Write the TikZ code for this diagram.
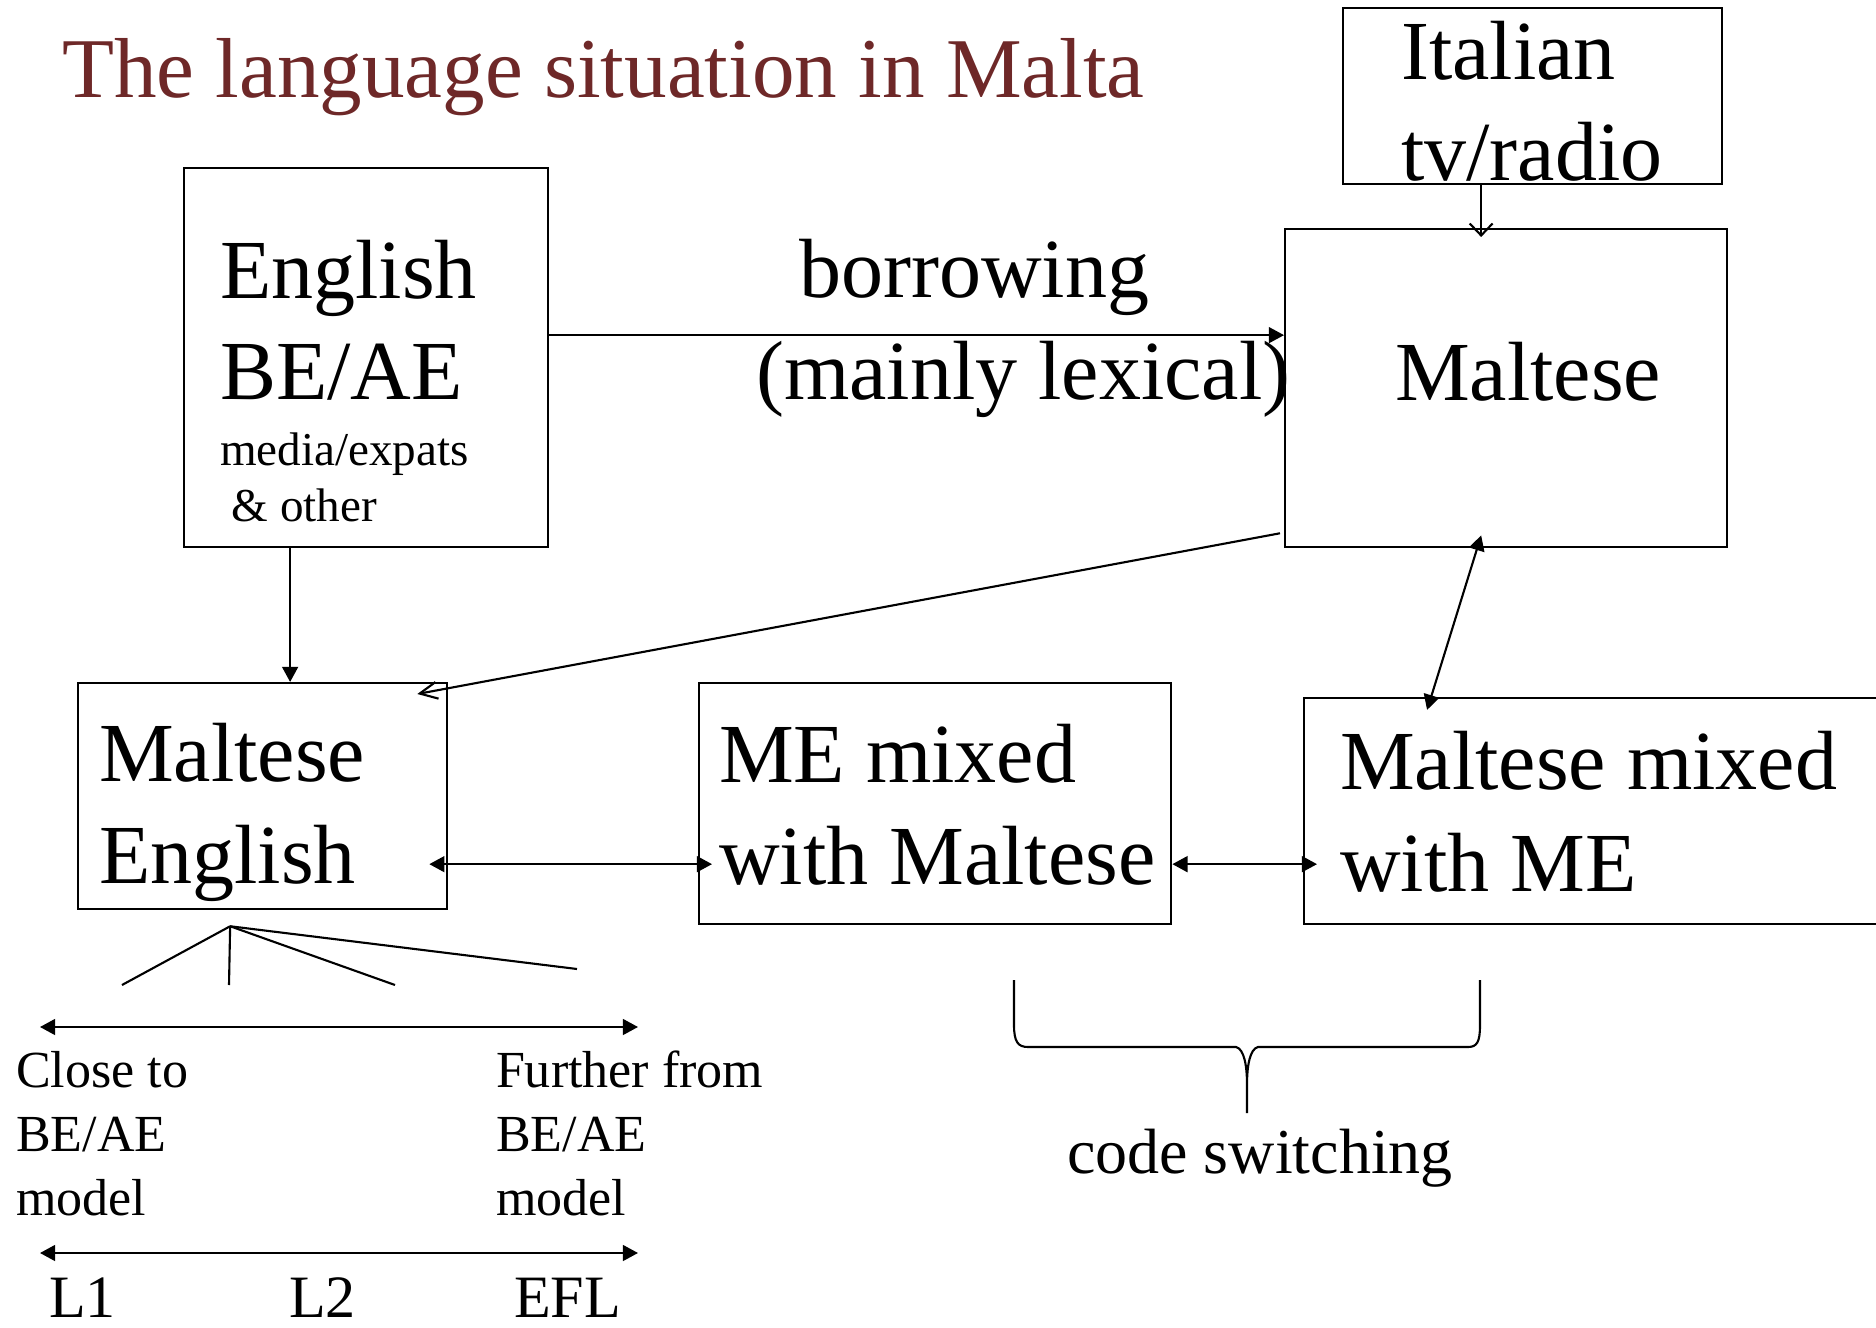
\documentclass[tikz,border=0pt]{standalone}
\usepackage{fontspec}
\setmainfont{Liberation Serif}
\usetikzlibrary{arrows.meta}
\definecolor{titlered}{RGB}{110,40,40}

\begin{document}
\begin{tikzpicture}[x=0.01cm,y=-0.01cm,line width=0.6pt,
	box/.style={draw,inner sep=0pt,anchor=north west},
	lbl/.style={inner sep=0pt,anchor=base west,align=left},
	big/.style={font=\fontsize{23.9}{28.9}\selectfont},
	arr/.style={-{Triangle[length=4.3pt,width=4.5pt]}},
	darr/.style={{Triangle[length=4.3pt,width=4.5pt]}-{Triangle[length=4.3pt,width=4.5pt]}},
	vee/.style={-{Straight Barb[length=5pt,width=4.8pt]}}]
	
	\useasboundingbox (0,0) rectangle (1876,1328);
	\clip (0,0) rectangle (1876,1328);
	
	\node[box,minimum width=3.79cm,minimum height=1.76cm] (italian) at (1342,7) {};
	\node[box,minimum width=4.42cm,minimum height=3.18cm] (maltese) at (1284,228) {};
	\node[box,minimum width=3.64cm,minimum height=3.79cm] (english) at (183,167) {};
	\node[box,minimum width=3.69cm,minimum height=2.26cm] (mtenglish) at (77,682) {};
	\node[box,minimum width=4.72cm,minimum height=2.41cm] (memix) at (698,682) {};
	\node[box,minimum width=6.00cm,minimum height=2.26cm] (mtmix) at (1303,697) {};
	
	\node[lbl,font=\fontsize{24.2}{29}\selectfont,text=titlered] (title) at (61,98) {The language situation in Malta};
	\node[lbl,big] (engtxt) at (219,400) {English\\BE/AE};
	\node[lbl,font=\fontsize{13.4}{16.2}\selectfont] (engsub) at (219,522) {media/expats\\\ \& other};
	\node[lbl,big] (bortxt) at (798,298) {borrowing};
	\node[lbl,big] (lextxt) at (755,400) {(mainly lexical)};
	\node[lbl,big] (maltxt) at (1394,401) {Maltese};
	\node[lbl,big] (itatxt) at (1400,181) {Italian\\tv/radio};
	\node[lbl,big] (mtetxt) at (98,883) {Maltese\\English};
	\node[lbl,big] (memtxt) at (718,884) {ME mixed\\with Maltese};
	\node[lbl,big] (mtmtxt) at (1339,891) {Maltese mixed\\with ME};
	\node[lbl,font=\fontsize{14.8}{18.2}\selectfont] (close) at (15,1215) {Close to\\BE/AE\\model};
	\node[lbl,font=\fontsize{14.8}{18.2}\selectfont] (further) at (495,1215) {Further from\\BE/AE\\model};
	\node[lbl,font=\fontsize{17.1}{20}\selectfont] (lone) at (48,1317) {L1};
	\node[lbl,font=\fontsize{17.1}{20}\selectfont] (ltwo) at (288,1317) {L2};
	\node[lbl,font=\fontsize{17.1}{20}\selectfont] (efl) at (513,1317) {EFL};
	\node[lbl,font=\fontsize{18.2}{22}\selectfont] (codesw) at (1066,1173) {code switching};
	
	\draw[arr] ([yshift=2.25mm]english.east) -- ([yshift=2.25mm]english.east -| maltese.west);
	\draw[-{Straight Barb[length=3.4pt,width=6.5pt]},shorten >=-0.9mm] ([xshift=-5.15mm]italian.south) -- ([xshift=-5.15mm]italian.south |- maltese.north);
	\draw[vee] ([xshift=-0.4mm,yshift=1.5mm]maltese.south west) -- ([xshift=-3.1mm,yshift=-1.2mm]mtenglish.north east);
	\draw[arr] ([xshift=-7.6mm]english.south) -- ([xshift=-7.6mm]english.south |- mtenglish.north);
	\draw[darr,shorten <=-1.9mm,shorten >=-1.4mm] ([yshift=-6.8mm]mtenglish.east) -- ([yshift=-6.8mm]mtenglish.east -| memix.west);
	\draw[darr,shorten >=-1.4mm] ([yshift=-6.05mm]memix.east) -- ([yshift=-6.05mm]memix.east -| mtmix.west);
	\draw[darr,shorten <=-1.35mm,shorten >=-1.35mm] ([xshift=-2.9mm]maltese.south) -- ([xshift=1.28cm]mtmix.north west);
	
	\coordinate (root) at ([xshift=-3.25mm,yshift=-1.6mm]mtenglish.south);
	\coordinate (ta) at (122,985);
	\coordinate (tb) at (229,985);
	\coordinate (tc) at (395,985);
	\coordinate (td) at (577,969);
	\foreach \t in {ta,tb,tc,td}
		\draw (root) -- (\t);
	
	\coordinate (sca) at (40,1027);
	\coordinate (scb) at (638,1027);
	\coordinate (scc) at (40,1253);
	\coordinate (scd) at (638,1253);
	\draw[darr] (sca) -- (scb);
	\draw[darr] (scc) -- (scd);
	
	\draw (1014,980) -- (1014,1025) .. controls (1014,1042) and (1018,1047) .. (1028,1047) -- (1236,1047)
		.. controls (1244,1049) and (1247,1065) .. (1247,1085) -- (1247,1113)
		(1247,1085) .. controls (1247,1065) and (1250,1049) .. (1258,1047) -- (1468,1047)
		.. controls (1477,1047) and (1480,1042) .. (1480,1025) -- (1480,980);
	
\end{tikzpicture}
\end{document}
